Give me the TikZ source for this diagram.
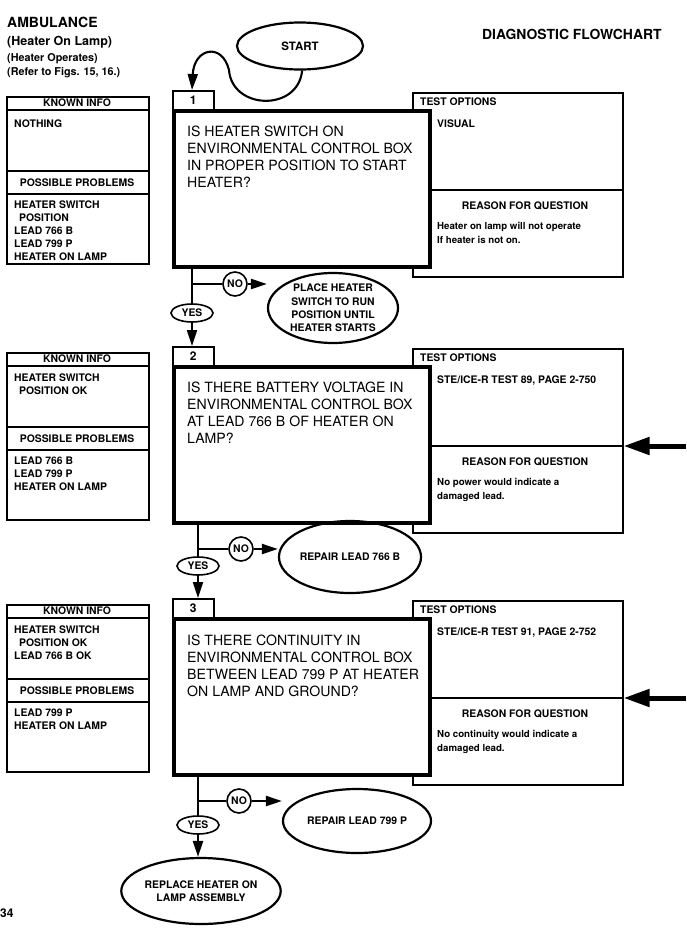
\documentclass[tikz,border=0pt]{standalone}
\usepackage{fontspec}
\setmainfont{TeX Gyre Heros}
\usepackage{tikz}
\usetikzlibrary{arrows.meta,calc,positioning,shapes.geometric}
\newcommand{\qsize}{\fontsize{14.1pt}{16.8pt}\selectfont}
\newcommand{\itemsize}{\fontsize{10.4pt}{13pt}\selectfont\bfseries}
\newcommand{\reasonsize}{\fontsize{9.7pt}{14pt}\selectfont\bfseries}
\tikzset{
  qbox/.style={draw, line width=4.2pt, fill=white, anchor=north west, minimum width=256pt, minimum height=156pt, inner sep=0pt},
  numbox/.style={draw, line width=1.6pt, fill=white, anchor=north west, minimum width=41pt, minimum height=19pt, inner sep=0pt, font=\fontsize{12pt}{12pt}\selectfont\bfseries},
  infobox/.style={draw, line width=1.6pt, anchor=north west, minimum width=142pt, minimum height=167pt, inner sep=0pt},
  testbox/.style={draw, line width=1.6pt, anchor=north west, minimum width=210pt, minimum height=184pt, inner sep=0pt},
  qtext/.style={anchor=north west, align=left, inner sep=0pt, font=\qsize},
  itemtext/.style={anchor=north west, align=left, inner sep=0pt, font=\itemsize},
  headtext/.style={inner sep=0pt, font=\itemsize},
  reasontext/.style={anchor=north west, align=left, inner sep=0pt, font=\reasonsize},
  titletext/.style={anchor=base west, inner sep=0pt},
  action/.style={draw, ellipse, line width=2.2pt, inner sep=0pt, align=center, font=\fontsize{10.4pt}{13.2pt}\selectfont\bfseries},
  yesnode/.style={draw, ellipse, line width=1.6pt, minimum width=42pt, minimum height=18pt, inner sep=0pt, font=\itemsize},
  nonode/.style={draw, circle, line width=1.6pt, minimum size=24pt, inner sep=0pt, font=\itemsize},
  flow/.style={line width=2.1pt},
  flowarrow/.style={line width=2.1pt, -{Triangle[length=16pt,width=10pt]}},
  entry/.style={line width=5pt, -{Triangle[length=26pt,width=17pt]}},
  divider/.style={line width=2.4pt},
  rule/.style={line width=1.6pt}
}
\begin{document}
\begin{tikzpicture}[x=1pt,y=-1pt]
  \fill[white] (0,0) rectangle (686,937);
  \useasboundingbox (0,0) rectangle (686,937);

  % heading
  \node[titletext, font=\fontsize{14pt}{14pt}\selectfont\bfseries] (title) at (7,27) {AMBULANCE};
  \node[titletext, font=\fontsize{12.5pt}{12.5pt}\selectfont\bfseries] (sub1) at (7,45) {(Heater On Lamp)};
  \node[titletext, font=\fontsize{10.8pt}{10.8pt}\selectfont\bfseries] (sub2) at (7,61) {(Heater Operates)};
  \node[titletext, font=\fontsize{10.8pt}{10.8pt}\selectfont\bfseries] (sub3) at (7,75) {(Refer to Figs. 15, 16.)};
  \node[titletext, font=\fontsize{13.9pt}{13.9pt}\selectfont\bfseries] (chart) at (482,39) {DIAGNOSTIC FLOWCHART};
  \node[titletext, font=\fontsize{12pt}{12pt}\selectfont\bfseries] (page) at (0,917) {34};

  \node[action, minimum width=126pt, minimum height=47pt, font=\fontsize{11.5pt}{11.5pt}\selectfont\bfseries] (start) at (300,46) {START};

  % step 1
  \node[testbox] (t1) at (412,92) {};
  \draw[divider] (412,190) -- (t1.east |- 0,190);
  \node[headtext, anchor=north west] (t1head) at (420,98) {TEST OPTIONS};
  \node[itemtext] (t1opt) at (437,120) {VISUAL};
  \node[headtext] (r1head) at (525,206) {REASON FOR QUESTION};
  \node[reasontext] (r1text) at (437,222) {Heater on lamp will not operate\\If heater is not on.};

  \node[infobox] (k1) at (6,96) {};
  \draw[rule] (6,110) -- (148,110);
  \draw[rule] (6,171) -- (148,171);
  \draw[rule] (6,194) -- (148,194);
  \node[headtext] (k1head) at (77,103) {KNOWN INFO};
  \node[headtext] (p1head) at (77,182.5) {POSSIBLE PROBLEMS};
  \node[itemtext] (k1text) at (14,120) {NOTHING};
  \node[itemtext] (p1text) at (14,201) {HEATER SWITCH\\\hspace*{5pt}POSITION\\LEAD 766 B\\LEAD 799 P\\HEATER ON LAMP};

  \node[numbox] (n1) at (172,90) {1};
  \node[qbox] (q1) at (172,109) {};
  \node[qtext] (q1text) at (187,126) {IS HEATER SWITCH ON\\ENVIRONMENTAL CONTROL BOX\\IN PROPER POSITION TO START\\HEATER?};

  \draw[flowarrow] (start.-85) .. controls (298,112) and (232,110) .. (229,70) .. controls (222,42) and (194,48) .. ($(n1.north west)+(20,0)$);

  \node[yesnode] (y1) at (192,313) {YES};
  \node[nonode] (no1) at (235,284) {NO};
  \node[action, minimum width=130pt, minimum height=70pt] (a1) at (333,308) {PLACE HEATER\\SWITCH TO RUN\\POSITION UNTIL\\HEATER STARTS};
  \draw[flow] (q1.south -| y1) -- (y1.north);
  \draw[flow] (no1 -| y1) -- (no1.west);
  \draw[flowarrow] (no1.east) -- (no1 -| a1.west);

  % step 2
  \node[testbox] (t2) at (412,348) {};
  \draw[divider] (412,446) -- (t2.east |- 0,446);
  \node[headtext, anchor=north west] (t2head) at (420,354) {TEST OPTIONS};
  \node[itemtext] (t2opt) at (437,376) {STE/ICE-R TEST 89, PAGE 2-750};
  \node[headtext] (r2head) at (525,462) {REASON FOR QUESTION};
  \node[reasontext] (r2text) at (437,478) {No power would indicate a\\damaged lead.};
  \coordinate (e2) at (686,446);
  \draw[entry] (e2) -- (t2.east |- e2);

  \node[infobox] (k2) at (6,352) {};
  \draw[rule] (6,366) -- (148,366);
  \draw[rule] (6,427) -- (148,427);
  \draw[rule] (6,450) -- (148,450);
  \node[headtext] (k2head) at (77,359) {KNOWN INFO};
  \node[headtext] (p2head) at (77,438.5) {POSSIBLE PROBLEMS};
  \node[itemtext] (k2text) at (14,374) {HEATER SWITCH\\\hspace*{5pt}POSITION OK};
  \node[itemtext] (p2text) at (14,457) {LEAD 766 B\\LEAD 799 P\\HEATER ON LAMP};

  \node[numbox] (n2) at (172,346) {2};
  \node[qbox] (q2) at (172,365) {};
  \node[qtext] (q2text) at (187,382) {IS THERE BATTERY VOLTAGE IN\\ENVIRONMENTAL CONTROL BOX\\AT LEAD 766 B OF HEATER ON\\LAMP?};

  \draw[flowarrow] (y1.south) -- (n2.north -| y1);

  \node[yesnode] (y2) at (198,566) {YES};
  \node[nonode] (no2) at (241,549) {NO};
  \node[action, minimum width=136pt, minimum height=72pt] (a2) at (350,557) {REPAIR LEAD 766 B};
  \draw[flow] (q2.south -| y2) -- (y2.north);
  \draw[flow] (no2 -| y2) -- (no2.west);
  \draw[flowarrow] (no2.east) -- (no2 -| a2.west);

  % step 3
  \node[testbox] (t3) at (412,600) {};
  \draw[divider] (412,698) -- (t3.east |- 0,698);
  \node[headtext, anchor=north west] (t3head) at (420,606) {TEST OPTIONS};
  \node[itemtext] (t3opt) at (437,628) {STE/ICE-R TEST 91, PAGE 2-752};
  \node[headtext] (r3head) at (525,714) {REASON FOR QUESTION};
  \node[reasontext] (r3text) at (437,730) {No continuity would indicate a\\damaged lead.};
  \coordinate (e3) at (686,698);
  \draw[entry] (e3) -- (t3.east |- e3);

  \node[infobox] (k3) at (6,604) {};
  \draw[rule] (6,618) -- (148,618);
  \draw[rule] (6,679) -- (148,679);
  \draw[rule] (6,702) -- (148,702);
  \node[headtext] (k3head) at (77,611) {KNOWN INFO};
  \node[headtext] (p3head) at (77,690.5) {POSSIBLE PROBLEMS};
  \node[itemtext] (k3text) at (14,626) {HEATER SWITCH\\\hspace*{5pt}POSITION OK\\LEAD 766 B OK};
  \node[itemtext] (p3text) at (14,709) {LEAD 799 P\\HEATER ON LAMP};

  \node[numbox] (n3) at (172,598) {3};
  \node[qbox] (q3) at (172,617) {};
  \node[qtext] (q3text) at (187,635) {IS THERE CONTINUITY IN\\ENVIRONMENTAL CONTROL BOX\\BETWEEN LEAD 799 P AT HEATER\\ON LAMP AND GROUND?};

  \draw[flowarrow] (y2.south) -- (n3.north -| y2);

  \node[yesnode] (y3) at (198,825) {YES};
  \node[nonode] (no3) at (239,801) {NO};
  \node[action, minimum width=148pt, minimum height=64pt] (a3) at (357,821) {REPAIR LEAD 799 P};
  \node[action, minimum width=132pt, minimum height=66pt] (a4) at (201,891) {REPLACE HEATER ON\\LAMP ASSEMBLY};
  \draw[flow] (q3.south -| y3) -- (y3.north);
  \draw[flow] (no3 -| y3) -- (no3.west);
  \draw[flowarrow] (no3.east) -- (no3 -| a3.west);
  \draw[flowarrow] (y3.south) -- (a4.north -| y3);
\end{tikzpicture}
\end{document}
